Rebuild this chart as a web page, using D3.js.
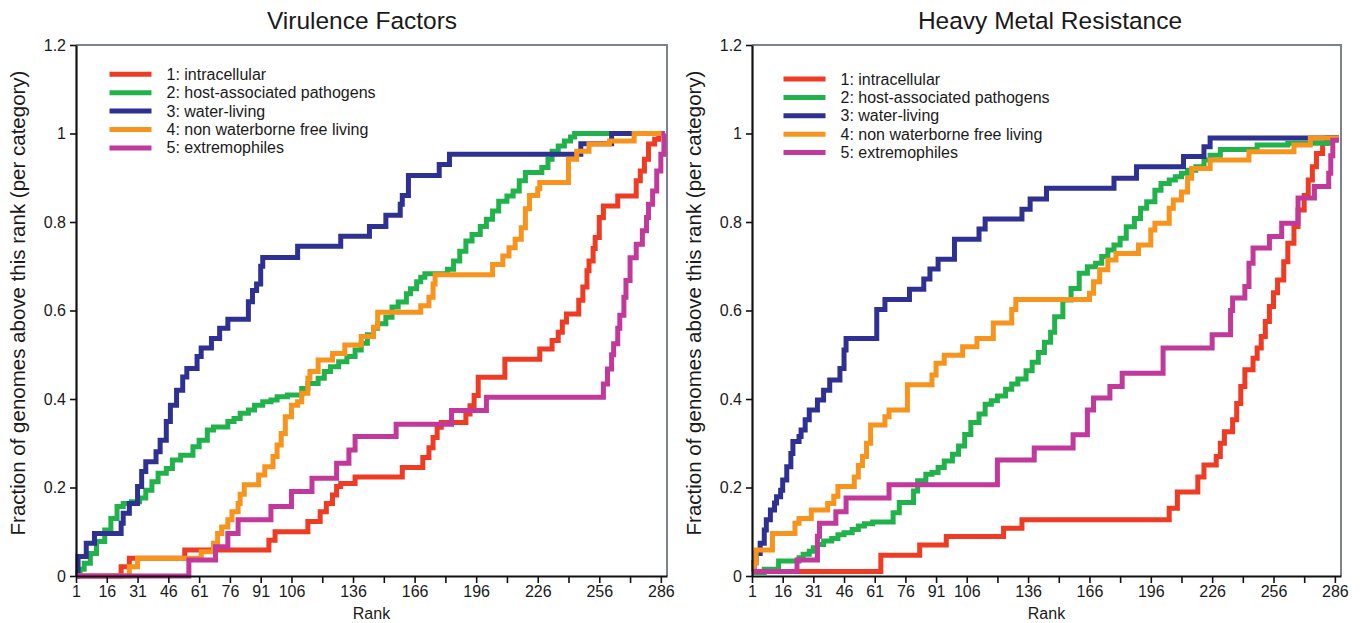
<!DOCTYPE html>
<html>
<head>
<meta charset="utf-8">
<script src="https://d3js.org/d3.v7.min.js"></script>
<style>
  body { margin: 0; background: #fff; }
  text { font-family: "Liberation Sans", Arial, sans-serif; fill: #1a1a1a; }
</style>
</head>
<body>
<script>
//CATEGORIES AND AXIS TICKS
var categories = ["1: intracellular", "2: host-associated pathogens", "3: water-living",
                  "4: non waterborne free living", "5: extremophiles"];
var colors = ["#ee3b24", "#22b24c", "#2e3192", "#f7941e", "#c1399b"];
var rankTicks = [1, 16, 31, 46, 61, 76, 91, 106, 121, 136, 151, 166, 181, 196, 211, 226, 241, 256, 271, 286];
var rankLabels = ["1", "16", "31", "46", "61", "76", "91", "106", "", "136", "", "166", "", "196", "", "226", "", "256", "", "286"];
var fracTicks = [0, 0.2, 0.4, 0.6, 0.8, 1, 1.2];
var fracLabels = ["0", "0.2", "0.4", "0.6", "0.8", "1", "1.2"];

//VIRULENCE FACTORS - [rank, fraction] step points per category
var vfIntracellular = [[1,0],[23,0.021],[27,0.04],[54,0.059],[95,0.081],[98,0.1],[114,0.123],[120,0.145],[123,0.164],[126,0.183],[128,0.202],[130,0.209],[137,0.224],[160,0.245],[170,0.268],[173,0.29],[175,0.313],[177,0.336],[179,0.347],[191,0.366],[193,0.385],[195,0.408],[197,0.449],[210,0.49],[227,0.513],[233,0.532],[236,0.551],[238,0.574],[240,0.592],[246,0.623],[248,0.653],[250,0.69],[251,0.712],[253,0.74],[254,0.765],[256,0.81],[258,0.836],[265,0.859],[274,0.893],[276,0.915],[278,0.942],[280,0.976],[283,0.987],[285,1],[288,1]];
var vfHost = [[1,0],[2,0.008],[3,0.015],[5,0.029],[8,0.051],[11,0.078],[15,0.104],[18,0.13],[21,0.157],[24,0.164],[28,0.168],[32,0.176],[35,0.194],[38,0.213],[41,0.232],[45,0.243],[48,0.262],[52,0.273],[58,0.292],[61,0.307],[65,0.33],[68,0.337],[75,0.349],[78,0.356],[81,0.368],[85,0.375],[88,0.386],[92,0.394],[96,0.398],[99,0.405],[104,0.409],[111,0.424],[114,0.435],[119,0.447],[122,0.462],[125,0.473],[129,0.484],[133,0.496],[137,0.511],[140,0.526],[143,0.545],[146,0.56],[148,0.57],[152,0.585],[155,0.608],[158,0.619],[162,0.638],[164,0.649],[167,0.665],[169,0.675],[171,0.683],[182,0.693],[185,0.712],[188,0.734],[191,0.757],[194,0.772],[198,0.79],[201,0.806],[204,0.825],[207,0.847],[211,0.859],[214,0.87],[217,0.893],[220,0.912],[228,0.923],[231,0.942],[233,0.96],[236,0.972],[239,0.983],[242,0.992],[244,1],[288,1]];
var vfWater = [[1,0],[2,0.044],[6,0.074],[10,0.096],[23,0.119],[24,0.142],[27,0.164],[31,0.202],[33,0.236],[35,0.258],[40,0.281],[42,0.307],[45,0.349],[47,0.386],[50,0.42],[53,0.45],[55,0.469],[60,0.496],[62,0.515],[67,0.537],[71,0.56],[75,0.58],[85,0.62],[87,0.645],[89,0.66],[91,0.7],[92,0.72],[109,0.745],[130,0.768],[144,0.79],[152,0.815],[159,0.84],[160,0.86],[163,0.905],[178,0.93],[183,0.953],[247,0.977],[262,1],[288,1]];
var vfNonWater = [[1,0],[27,0.021],[31,0.04],[62,0.055],[68,0.074],[70,0.096],[72,0.111],[75,0.127],[77,0.145],[80,0.164],[81,0.185],[83,0.206],[90,0.228],[93,0.247],[97,0.27],[99,0.296],[101,0.322],[103,0.36],[106,0.386],[109,0.394],[111,0.413],[114,0.447],[115,0.462],[119,0.488],[126,0.503],[132,0.522],[140,0.541],[146,0.562],[148,0.596],[169,0.611],[173,0.63],[175,0.66],[176,0.681],[204,0.704],[209,0.723],[212,0.742],[215,0.761],[218,0.787],[220,0.83],[222,0.86],[226,0.875],[227,0.889],[241,0.942],[245,0.96],[251,0.976],[261,0.983],[273,1],[288,1]];
var vfExtremophiles = [[1,0],[56,0.036],[69,0.066],[75,0.096],[80,0.127],[96,0.157],[106,0.191],[116,0.221],[128,0.255],[134,0.285],[137,0.315],[157,0.343],[184,0.374],[201,0.404],[258,0.434],[260,0.468],[262,0.5],[263,0.525],[265,0.56],[266,0.589],[268,0.63],[269,0.668],[271,0.719],[274,0.75],[277,0.78],[279,0.81],[280,0.84],[282,0.87],[284,0.915],[286,0.953],[287.5,1],[288,1]];

//HEAVY METAL RESISTANCE
var hmIntracellular = [[1,0.01],[64,0.047],[83,0.07],[96,0.089],[124,0.108],[133,0.127],[205,0.153],[209,0.19],[219,0.224],[222,0.251],[228,0.27],[230,0.3],[232,0.326],[236,0.353],[238,0.39],[240,0.428],[242,0.466],[246,0.492],[248,0.515],[250,0.541],[252,0.575],[254,0.609],[256,0.64],[258,0.669],[261,0.71],[263,0.752],[266,0.79],[268,0.827],[271,0.86],[273,0.895],[275,0.925],[277,0.955],[280,0.978],[282,0.99],[288,0.99]];
var hmHost = [[1,0.008],[7,0.015],[14,0.034],[24,0.041],[26,0.049],[29,0.056],[31,0.064],[33,0.071],[36,0.079],[40,0.085],[43,0.093],[46,0.098],[50,0.105],[53,0.113],[56,0.118],[60,0.122],[70,0.143],[73,0.166],[80,0.192],[82,0.215],[86,0.23],[89,0.234],[92,0.245],[95,0.26],[99,0.275],[102,0.294],[105,0.32],[108,0.347],[112,0.366],[115,0.388],[118,0.396],[121,0.407],[125,0.422],[128,0.434],[131,0.445],[135,0.464],[138,0.483],[141,0.505],[144,0.528],[147,0.551],[149,0.586],[153,0.624],[157,0.65],[161,0.684],[165,0.699],[169,0.707],[172,0.722],[175,0.737],[178,0.748],[181,0.763],[184,0.789],[188,0.808],[191,0.831],[194,0.846],[198,0.872],[201,0.887],[205,0.895],[208,0.902],[211,0.91],[214,0.917],[218,0.925],[222,0.94],[225,0.951],[230,0.964],[248,0.974],[263,0.978],[283,0.99],[288,0.99]];
var hmWater = [[1,0.01],[2,0.03],[3,0.051],[5,0.074],[7,0.104],[8,0.127],[10,0.149],[12,0.165],[13,0.179],[15,0.194],[16,0.217],[18,0.247],[20,0.277],[21,0.304],[24,0.315],[25,0.33],[27,0.353],[29,0.375],[33,0.398],[36,0.42],[39,0.443],[44,0.469],[46,0.511],[47,0.537],[62,0.602],[66,0.625],[78,0.648],[85,0.671],[88,0.694],[92,0.716],[100,0.761],[112,0.784],[115,0.807],[133,0.829],[137,0.852],[145,0.876],[178,0.899],[189,0.925],[212,0.948],[222,0.97],[225,0.99],[288,0.99]];
var hmNonWater = [[1,0.01],[2,0.03],[3,0.059],[11,0.096],[22,0.119],[24,0.13],[30,0.149],[38,0.164],[41,0.18],[43,0.202],[51,0.224],[53,0.25],[55,0.27],[57,0.3],[59,0.341],[66,0.36],[68,0.375],[77,0.432],[89,0.454],[91,0.481],[95,0.499],[104,0.518],[111,0.537],[119,0.572],[128,0.602],[130,0.625],[166,0.639],[168,0.665],[171,0.692],[175,0.714],[179,0.729],[190,0.748],[196,0.782],[198,0.797],[205,0.831],[207,0.85],[211,0.868],[214,0.899],[216,0.921],[225,0.94],[244,0.959],[266,0.974],[274,0.99],[288,0.99]];
var hmExtremophiles = [[1,0.01],[23,0.036],[33,0.09],[34,0.119],[42,0.145],[47,0.176],[68,0.206],[121,0.262],[139,0.289],[158,0.319],[165,0.375],[168,0.402],[176,0.428],[182,0.458],[202,0.515],[226,0.545],[235,0.6],[236,0.628],[242,0.654],[244,0.707],[246,0.741],[254,0.767],[260,0.797],[268,0.854],[276,0.88],[283,0.91],[284,0.95],[285,0.985],[288,0.985]];

//SETTING UP THE CANVAS
var w = 1360;
var h = 623;
var plotTop = 45;
var plotBottom = 576;
var svg = d3.select("body").append("svg")
    .attr("width", w)
    .attr("height", h);

function drawPanel(title, series, left, right, titleX, legendX, legendY, labelX) {
  var x = d3.scaleLinear().domain([1, 289]).range([left, right]);
  var y = d3.scaleLinear().domain([0, 1.2]).range([plotBottom, plotTop]);
  var g = svg.append("g");

  //frame on top and right in grey
  g.append("path")
    .attr("d", "M" + x.range()[0] + "," + y(1.2) + "H" + x.range()[1] + "V" + y(0))
    .attr("fill", "none")
    .attr("stroke", "#7d8090")
    .attr("stroke-width", 2);

  //the curves, one step line per category
  var line = d3.line()
    .x(function(d) { return x(d[0]); })
    .y(function(d) { return y(d[1]); })
    .curve(d3.curveStepAfter);
  g.selectAll(".curve")
    .data(series)
    .join("path")
    .attr("class", "curve")
    .attr("d", line)
    .attr("fill", "none")
    .attr("stroke", function(d, i) { return colors[i]; })
    .attr("stroke-width", 5)
    .attr("stroke-linejoin", "miter");

  //axes
  var yAxis = g.append("g")
    .attr("transform", "translate(" + left + ",0)")
    .call(d3.axisLeft(y).tickValues(fracTicks)
      .tickFormat(function(d, i) { return fracLabels[i]; })
      .tickSize(6).tickSizeOuter(0).tickPadding(4));
  var xAxis = g.append("g")
    .attr("transform", "translate(0," + plotBottom + ")")
    .call(d3.axisBottom(x).tickValues(rankTicks)
      .tickFormat(function(d, i) { return rankLabels[i]; })
      .tickSize(7).tickSizeOuter(0).tickPadding(3));
  [yAxis, xAxis].forEach(function(a) {
    a.attr("font-family", null).attr("font-size", null);
    a.select(".domain").attr("stroke", "#111").attr("stroke-width", 2.2);
    a.selectAll(".tick line").attr("stroke", "#111").attr("stroke-width", 1.6);
    a.selectAll("text").style("font-size", "16px").attr("fill", "#1a1a1a");
  });

  //titles and labels
  var cx = (left + right) / 2;
  g.append("text")
    .attr("x", titleX).attr("y", 29)
    .attr("text-anchor", "middle")
    .style("font-size", "24.5px")
    .text(title);
  g.append("text")
    .attr("x", cx).attr("y", 619)
    .attr("text-anchor", "middle")
    .style("font-size", "16px")
    .text("Rank");
  g.append("text")
    .attr("transform", "translate(" + labelX + ",303) rotate(-90)")
    .attr("text-anchor", "middle")
    .style("font-size", "20.5px")
    .text("Fraction of genomes above this rank (per category)");

  //legend
  var leg = g.selectAll(".leg")
    .data(categories)
    .join("g")
    .attr("class", "leg")
    .attr("transform", function(d, i) { return "translate(" + legendX + "," + (legendY + i * 18.4) + ")"; });
  leg.append("line")
    .attr("x1", 0).attr("x2", 42)
    .attr("stroke", function(d, i) { return colors[i]; })
    .attr("stroke-width", 5);
  leg.append("text")
    .attr("x", 57).attr("y", 5.5)
    .style("font-size", "16px")
    .text(function(d) { return d; });
}

drawPanel("Virulence Factors",
  [vfIntracellular, vfHost, vfWater, vfNonWater, vfExtremophiles],
  76, 667, 362, 109.5, 74.3, 25);
drawPanel("Heavy Metal Resistance",
  [hmIntracellular, hmHost, hmWater, hmNonWater, hmExtremophiles],
  752, 1341, 1050, 783.5, 79, 701);
</script>
</body>
</html>
